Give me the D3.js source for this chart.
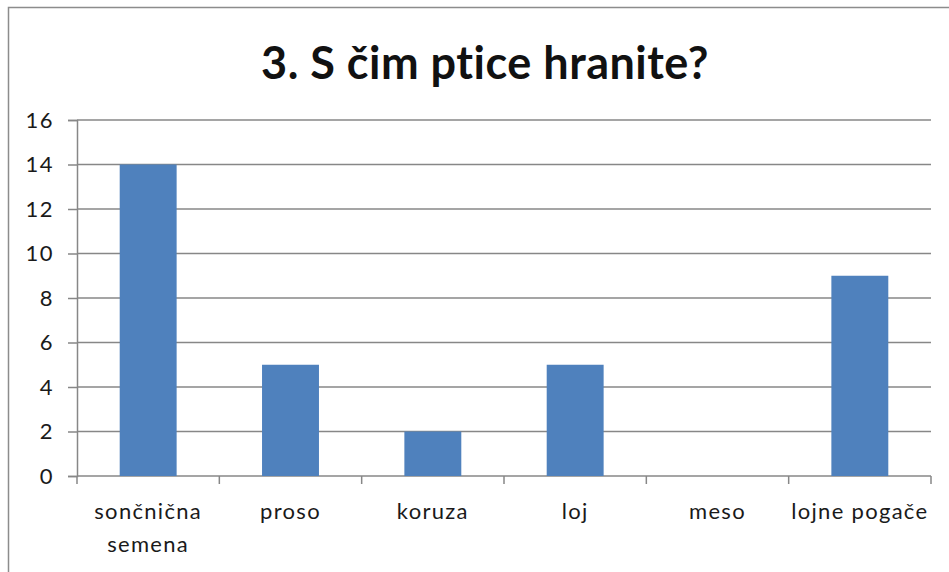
<!DOCTYPE html>
<html>
<head>
<meta charset="utf-8">
<script src="https://cdn.jsdelivr.net/npm/d3@7"></script>
<style>
	body { margin: 0; background: #fff; }
	svg { display: block; font-family: Lato, 'Open Sans', sans-serif; }
</style>
</head>
<body>
<div id="viz"></div>
<script>
// chart data
const categories = ['sončnična semena', 'proso', 'koruza', 'loj', 'meso', 'lojne pogače'];
const values = [14, 5, 2, 5, 0, 9];
const yTicks = [0, 2, 4, 6, 8, 10, 12, 14, 16];
const title = '3. S čim ptice hranite?';

const width = 949;
const height = 572;
const plot = { left: 77, right: 931, top: 120, bottom: 476 };

const svg = d3.select('#viz').append('svg')
	.attr('width', width)
	.attr('height', height);

// chart frame (only top and left edges are visible in the crop)
svg.append('rect')
	.attr('x', 8.5)
	.attr('y', 7.5)
	.attr('width', width + 20)
	.attr('height', height + 20)
	.attr('fill', '#fff')
	.attr('stroke', '#8c8c8c')
	.attr('stroke-width', 1.5);

svg.append('text')
	.attr('x', 485)
	.attr('y', 79)
	.attr('text-anchor', 'middle')
	.attr('font-size', 45)
	.attr('font-weight', 'bold')
	.attr('letter-spacing', 0.5)
	.attr('fill', '#111')
	.text(title);

const xScale = d3.scaleBand()
	.domain(categories)
	.range([plot.left, plot.right])
	.paddingInner(0.6)
	.paddingOuter(0.3);

const yScale = d3.scaleLinear()
	.domain([0, 16])
	.range([plot.bottom, plot.top]);

const grid = '#878787';

// horizontal gridlines + y axis
const yAxis = svg.append('g')
	.attr('transform', 'translate(' + plot.left + ',0)')
	.call(d3.axisLeft(yScale)
		.tickValues(yTicks)
		.tickSize(9)
		.tickPadding(14));
yAxis.select('.domain').attr('stroke', grid).attr('stroke-width', 1.5);
yAxis.selectAll('.tick line').attr('stroke', grid).attr('stroke-width', 1.5);
yAxis.selectAll('.tick text')
	.attr('font-size', 22)
	.attr('letter-spacing', 1.5)
	.attr('font-family', 'Lato, sans-serif')
	.attr('fill', '#1a1a1a');

svg.append('g').selectAll('line')
	.data(yTicks)
	.enter()
	.append('line')
	.attr('x1', plot.left)
	.attr('x2', plot.right)
	.attr('y1', (d) => { return yScale(d); })
	.attr('y2', (d) => { return yScale(d); })
	.attr('stroke', grid)
	.attr('stroke-width', 1.5);

// bars
svg.append('g').selectAll('rect')
	.data(values)
	.enter()
	.append('rect')
	.attr('x', (d, i) => { return xScale(categories[i]); })
	.attr('y', (d) => { return yScale(d); })
	.attr('width', xScale.bandwidth())
	.attr('height', (d) => { return plot.bottom - yScale(d); })
	.attr('fill', '#4f81bd');

// x axis ticks at category boundaries
const step = xScale.step();
const boundaries = d3.range(categories.length + 1).map((i) => { return plot.left + i * step; });
svg.append('g').selectAll('line')
	.data(boundaries)
	.enter()
	.append('line')
	.attr('x1', (d) => { return d; })
	.attr('x2', (d) => { return d; })
	.attr('y1', plot.bottom)
	.attr('y2', plot.bottom + 8)
	.attr('stroke', grid)
	.attr('stroke-width', 1.5);

// category labels (first one wraps to two lines)
const labelLines = [['sončnična', 'semena'], ['proso'], ['koruza'], ['loj'], ['meso'], ['lojne pogače']];
const labels = svg.append('g').selectAll('text')
	.data(labelLines)
	.enter()
	.append('text')
	.attr('text-anchor', 'middle')
	.attr('font-size', 22)
	.attr('letter-spacing', 1.3)
	.attr('fill', '#1a1a1a')
	.attr('transform', (d, i) => { return 'translate(' + (xScale(categories[i]) + xScale.bandwidth() / 2) + ',519)'; });
labels.selectAll('tspan')
	.data((d) => { return d; })
	.enter()
	.append('tspan')
	.attr('x', 0)
	.attr('dy', (d, i) => { return i === 0 ? 0 : 33; })
	.text((d) => { return d; });
</script>
</body>
</html>
